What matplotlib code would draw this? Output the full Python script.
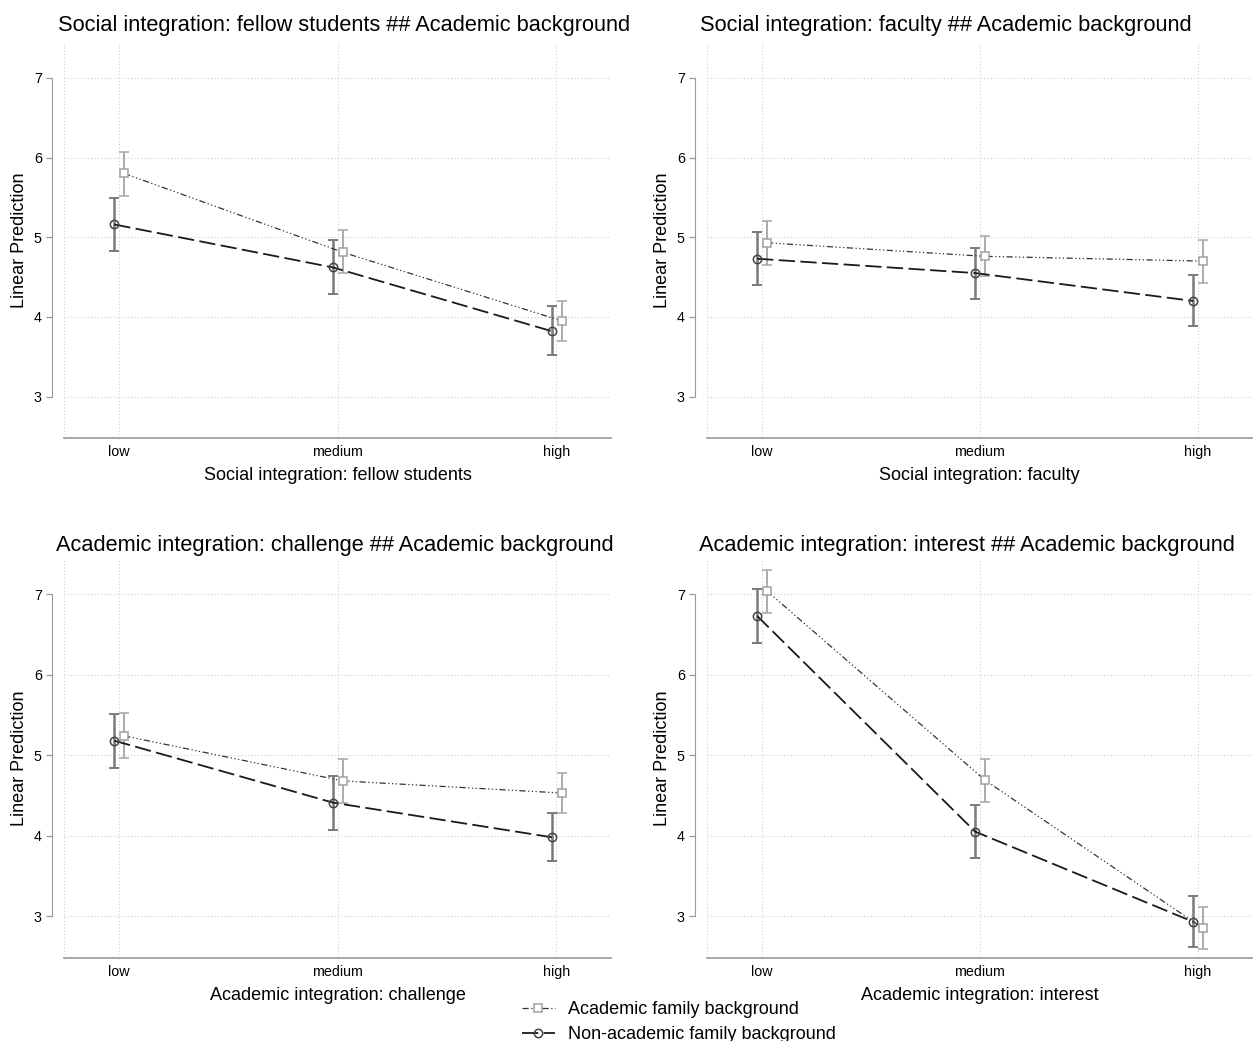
import matplotlib.pyplot as plt
from matplotlib.lines import Line2D

plt.rcParams['font.family'] = ['Liberation Sans', 'DejaVu Sans']

levels = ["low", "medium", "high"]
titles = [
    "Social integration: fellow students ## Academic background",
    "Social integration: faculty ## Academic background",
    "Academic integration: challenge ## Academic background",
    "Academic integration: interest ## Academic background",
]
xlabels = [
    "Social integration: fellow students",
    "Social integration: faculty",
    "Academic integration: challenge",
    "Academic integration: interest",
]

# non-academic family background: estimate, lower CI, upper CI
nonacad_est = [[5.16, 4.62, 3.82], [4.73, 4.55, 4.20], [5.18, 4.41, 3.98], [6.73, 4.05, 2.93]]
nonacad_lo = [[4.83, 4.29, 3.52], [4.40, 4.23, 3.88], [4.84, 4.07, 3.68], [6.40, 3.72, 2.62]]
nonacad_hi = [[5.49, 4.96, 4.14], [5.07, 4.87, 4.52], [5.51, 4.74, 4.28], [7.06, 4.38, 3.25]]

# academic family background
acad_est = [[5.80, 4.81, 3.95], [4.93, 4.76, 4.70], [5.24, 4.68, 4.53], [7.04, 4.69, 2.85]]
acad_lo = [[5.52, 4.55, 3.70], [4.65, 4.51, 4.43], [4.96, 4.40, 4.28], [6.77, 4.42, 2.59]]
acad_hi = [[6.07, 5.09, 4.20], [5.20, 5.02, 4.97], [5.52, 4.95, 4.78], [7.30, 4.95, 3.11]]

W, H = 1255, 1041
fig = plt.figure(figsize=(W / 100, H / 100), dpi=100)

# axes boxes in pixels: left, right, top, bottom
boxes = [(64, 611, 42, 438), (707, 1252, 42, 438), (64, 611, 558, 958), (707, 1252, 558, 958)]
title_pos = [(344, 26), (946, 26), (335, 545), (967, 545)]

dash_ac = (0, (5, 2, 1, 2, 1, 2, 1, 2))
dash_na = (0, (9, 3))

for i in range(4):
    l, r, t, b = boxes[i]
    ax = fig.add_axes([l / W, (H - b) / H, (r - l) / W, (b - t) / H])
    x = [1, 2, 3]
    xn = [v - 0.02 for v in x]
    xa = [v + 0.025 for v in x]

    na = nonacad_est[i]
    ac = acad_est[i]
    na_err = [[e - lo for e, lo in zip(na, nonacad_lo[i])], [hi - e for e, hi in zip(na, nonacad_hi[i])]]
    ac_err = [[e - lo for e, lo in zip(ac, acad_lo[i])], [hi - e for e, hi in zip(ac, acad_hi[i])]]

    ax.errorbar(xn, na, yerr=na_err, fmt='none', ecolor='#7a7a7a', elinewidth=1.8, capsize=3.5, capthick=1.4, zorder=3)
    ax.errorbar(xa, ac, yerr=ac_err, fmt='none', ecolor='#ababab', elinewidth=1.4, capsize=3.5, capthick=1.2, zorder=3)
    ax.plot(xa, ac, color='#333333', lw=0.9, linestyle=dash_ac, zorder=4)
    ax.plot(xn, na, color='#1a1a1a', lw=1.3, linestyle=dash_na, zorder=4)
    ax.plot(xa, ac, 's', ms=6, mfc='white', mec='#a0a0a0', mew=1.1, zorder=5)
    ax.plot(xn, na, 'o', ms=6, mfc='none', mec='#444444', mew=1.1, zorder=5)

    ax.set_xlim(0.75, 3.25)
    ax.set_ylim(2.48, 7.45)
    ax.set_xticks(x)
    ax.set_xticklabels(levels)
    ax.set_yticks([3, 4, 5, 6, 7])
    ax.tick_params(axis='x', length=0, pad=5, labelsize=10.3)
    ax.tick_params(axis='y', length=4, width=0.9, color='#999999', pad=3, labelsize=10.3)

    for yv in [3, 4, 5, 6, 7]:
        ax.axhline(yv, color='#d0d0d0', lw=0.8, linestyle=(0, (1, 2)), zorder=1)
    for xv in [0.75, 1, 2, 3, 3.25]:
        ax.axvline(xv, color='#d0d0d0', lw=0.8, linestyle=(0, (1, 2)), zorder=1)

    for s in ['top', 'right']:
        ax.spines[s].set_visible(False)
    ax.spines['left'].set_position(('outward', 9))
    ax.spines['left'].set_bounds(3, 7)
    ax.spines['left'].set_color('#999999')
    ax.spines['bottom'].set_color('#999999')
    ax.spines['bottom'].set_linewidth(1.2)

    ax.set_xlabel(xlabels[i], fontsize=13, labelpad=6)
    ax.set_ylabel("Linear Prediction", fontsize=13)
    ax.yaxis.set_label_coords(-36 / (r - l), 0.5)

    tx, ty = title_pos[i]
    fig.text(tx / W, 1 - ty / H, titles[i], fontsize=15.7, ha='center', va='center')

handles = [
    Line2D([], [], color='#333333', lw=0.9, linestyle=dash_ac, marker='s', ms=6, mfc='white', mec='#a0a0a0', mew=1.1),
    Line2D([], [], color='#1a1a1a', lw=1.3, linestyle=dash_na, marker='o', ms=6, mfc='none', mec='#444444', mew=1.1),
]
fig.legend(handles, ["Academic family background", "Non-academic family background"],
           loc='upper left', bbox_to_anchor=(513 / W, 1 - 992 / H), frameon=False,
           fontsize=13, handlelength=1.8, handletextpad=0.75, labelspacing=0.45, borderpad=0)

fig.savefig("out.png", dpi=100)
